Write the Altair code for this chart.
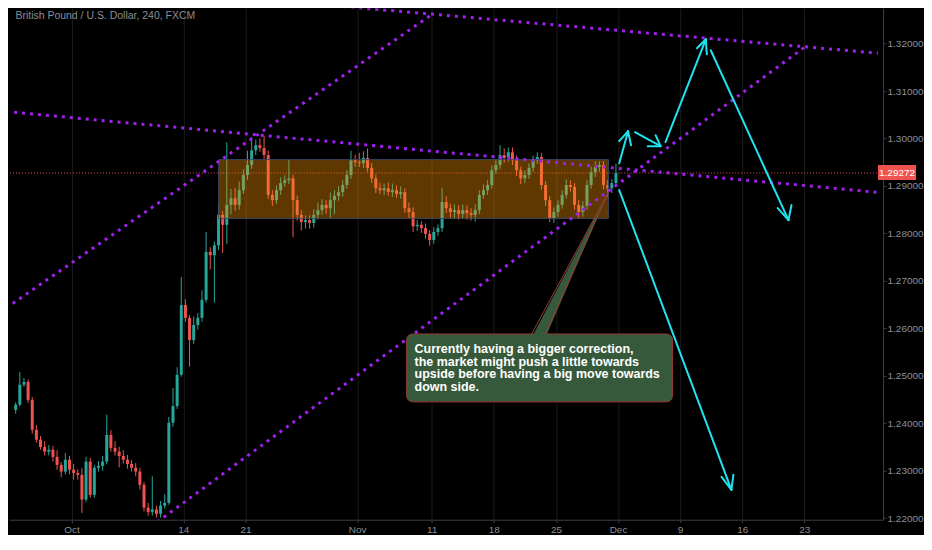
import altair as alt
import pandas as pd

# ---------------- data ----------------
TITLE = "British Pound / U.S. Dollar, 240, FXCM"
tick_days = [0, 9, 14, 23, 29, 34, 39, 44, 49, 54, 59]
tick_labels = ["Oct", "14", "21", "Nov", "11", "18", "25", "Dec", "9", "16", "23"]
price_ticks = [1.22, 1.23, 1.24, 1.25, 1.26, 1.27, 1.28, 1.29, 1.30, 1.31, 1.32]

first_bar_day = -4.5      # trading-day index of the first bar (Oct 1 = 0)
bars_per_day = 3
first_open = 1.2428
closes = [
    1.2439, 1.2481, 1.2487, 1.2449, 1.2386, 1.2365, 1.2350, 1.2340, 1.2344, 1.2329,
    1.2312, 1.2298, 1.2323, 1.2302, 1.2295, 1.2291, 1.2239, 1.2319, 1.2249, 1.2306,
    1.2310, 1.2319, 1.2375, 1.2348, 1.2340, 1.2331, 1.2323, 1.2314, 1.2306, 1.2298,
    1.2270, 1.2222, 1.2213, 1.2218, 1.2209, 1.2226, 1.2232, 1.2401, 1.2436, 1.2502,
    1.2649, 1.2622, 1.2575, 1.2607, 1.2622, 1.2660, 1.2761, 1.2754, 1.2775, 1.2839,
    1.2818, 1.2860, 1.2874, 1.2860, 1.2891, 1.2923, 1.2944, 1.2975, 1.2986, 1.2980,
    1.2965, 1.2881, 1.2870, 1.2891, 1.2906, 1.2912, 1.2916, 1.2870, 1.2839, 1.2824,
    1.2828, 1.2822, 1.2839, 1.2849, 1.2860, 1.2853, 1.2870, 1.2879, 1.2887, 1.2902,
    1.2923, 1.2954, 1.2950, 1.2948, 1.2959, 1.2938, 1.2916, 1.2895, 1.2891, 1.2895,
    1.2887, 1.2891, 1.2883, 1.2887, 1.2853, 1.2845, 1.2815, 1.2818, 1.2811, 1.2799,
    1.2786, 1.2803, 1.2811, 1.2866, 1.2853, 1.2845, 1.2849, 1.2841, 1.2849, 1.2843,
    1.2839, 1.2849, 1.2881, 1.2891, 1.2902, 1.2933, 1.2944, 1.2965, 1.2959, 1.2971,
    1.2954, 1.2933, 1.2916, 1.2923, 1.2938, 1.2954, 1.2961, 1.2902, 1.2870, 1.2832,
    1.2845, 1.2860, 1.2881, 1.2902, 1.2898, 1.2860, 1.2845, 1.2858, 1.2902, 1.2929,
    1.2940, 1.2944, 1.2902, 1.2895, 1.2906, 1.29272,
]
wick_up_pips = [
    5, 27, 8, 5, 6, 10, 8, 12, 10, 8,
    14, 6, 14, 8, 12, 8, 14, 10, 8, 6,
    10, 12, 43, 10, 14, 10, 12, 10, 8, 10,
    8, 6, 10, 70, 8, 10, 18, 12, 38, 16,
    59, 12, 6, 18, 10, 20, 42, 10, 8, 25,
    8, 132, 20, 22, 18, 12, 30, 28, 12, 14,
    25, 10, 10, 10, 12, 10, 39, 8, 10, 10,
    10, 10, 12, 16, 12, 10, 16, 12, 12, 10,
    10, 20, 12, 20, 14, 20, 10, 8, 12, 10,
    12, 14, 10, 12, 8, 12, 10, 10, 8, 10,
    8, 10, 8, 30, 12, 10, 12, 10, 12, 10,
    10, 12, 10, 12, 10, 10, 12, 21, 14, 10,
    10, 10, 8, 10, 10, 10, 10, 8, 8, 8,
    10, 10, 10, 12, 10, 8, 10, 10, 10, 12,
    12, 8, 8, 10, 8, 20,
]
wick_dn_pips = [
    8, 4, 5, 6, 8, 6, 6, 8, 8, 10,
    10, 12, 6, 10, 14, 10, 28, 6, 6, 6,
    8, 10, 6, 8, 8, 24, 8, 10, 8, 10,
    10, 8, 8, 8, 8, 8, 6, 4, 8, 6,
    4, 8, 56, 8, 10, 8, 6, 30, 100, 10,
    59, 40, 20, 12, 10, 8, 10, 8, 10, 8,
    8, 8, 12, 8, 10, 8, 8, 78, 12, 18,
    14, 12, 10, 10, 10, 12, 20, 30, 10, 10,
    8, 8, 10, 8, 10, 8, 10, 10, 8, 10,
    8, 10, 8, 10, 10, 14, 12, 10, 10, 10,
    12, 8, 8, 8, 10, 12, 14, 12, 10, 14,
    12, 14, 8, 8, 10, 8, 8, 8, 10, 8,
    10, 12, 12, 10, 8, 8, 8, 10, 12, 8,
    10, 10, 8, 8, 10, 10, 14, 10, 8, 8,
    10, 10, 10, 18, 10, 8,
]
last_price = 1.29272

# consolidation zone
zone_t = [11.846, 43.225]
zone_p = [1.28316, 1.29554]

# dotted trend lines (start day, start price, end day, end price)
trend_t0 = [-5.269, 16.76, -5.269, 6.379]
trend_p0 = [1.30567, 1.32901, 1.26428, 1.21817]
trend_t1 = [64.93, 64.93, 28.96, 59.07]
trend_p1 = [1.28864, 1.31798, 1.32603, 1.31933]

# cyan arrows: shaft + two head strokes each
arrow_t0 = [44.097, 44.810, 44.810,
            45.365, 47.425, 47.425,
            47.821, 51.070, 51.070,
            51.466, 57.726, 57.726,
            44.097, 53.130, 53.130]
arrow_p0 = [1.29480, 1.30154, 1.30154,
            1.30133, 1.29838, 1.29838,
            1.29923, 1.32091, 1.32091,
            1.31859, 1.28280, 1.28280,
            1.28912, 1.22596, 1.22596]
arrow_t1 = [44.810, 44.097, 45.048,
            47.425, 46.395, 47.029,
            51.070, 50.357, 51.149,
            57.726, 56.854, 57.964,
            53.130, 52.338, 53.288]
arrow_p1 = [1.30154, 1.29944, 1.29859,
            1.29838, 1.29838, 1.30070,
            1.32091, 1.31902, 1.31775,
            1.28280, 1.28533, 1.28596,
            1.22596, 1.22870, 1.22912]

# callout
note_lines = [
    "Currently having a bigger correction,",
    "the market might push a little towards",
    "upside before having a big move towards",
    "down side.",
]
note_box_t = [26.98, 48.38]
note_box_p = [1.24449, 1.25880]
note_text_t = 27.615
note_text_p = 1.25470
pointer_t = [37.044, 38.153, 43.225]
pointer_top = [1.2580, 1.26352, 1.28870]
pointer_bot = [1.2580, 1.2580, 1.28870]
pointer_edge_t0 = [37.044, 38.153]
pointer_edge_p0 = [1.2588, 1.2588]

title_t = -4.52
title_p = 1.32512
tag_t = [64.937, 68.0]
tag_p = [1.29123, 1.29439]

x_domain = [-4.6355, 64.937]
y_domain = [1.21965, 1.32744]

# ---------------- styling ----------------
BG = "#000000"
UP = "#26a69a"
DN = "#ef5350"
PURPLE = "#a020f0"
CYAN = "#1ee3f0"
NOTE_GREEN = "#37593b"
NOTE_RED = "#9a3b36"
AXIS_C = "#3a3d45"
LABEL_C = "#8c8f98"
SANS = "Liberation Sans, Arial, sans-serif"

# ---------------- frames ----------------
opens = [first_open] + closes[:-1]
candles = pd.DataFrame({
    "t": [first_bar_day + i / bars_per_day for i in range(len(closes))],
    "o": opens,
    "c": closes,
    "h": [max(o, c) + u * 1e-4 for o, c, u in zip(opens, closes, wick_up_pips)],
    "l": [min(o, c) - d * 1e-4 for o, c, d in zip(opens, closes, wick_dn_pips)],
})
zone_df = pd.DataFrame({"t0": [zone_t[0]], "t1": [zone_t[1]], "p0": [zone_p[0]], "p1": [zone_p[1]]})
trend_df = pd.DataFrame({"t0": trend_t0, "p0": trend_p0, "t1": trend_t1, "p1": trend_p1})
arrow_df = pd.DataFrame({"t0": arrow_t0, "p0": arrow_p0, "t1": arrow_t1, "p1": arrow_p1})
box_df = pd.DataFrame({"t0": [note_box_t[0]], "t1": [note_box_t[1]], "p0": [note_box_p[0]], "p1": [note_box_p[1]]})
ptr_df = pd.DataFrame({"t": pointer_t, "top": pointer_top, "bot": pointer_bot})
edge_df = pd.DataFrame({"t0": pointer_edge_t0, "p0": pointer_edge_p0,
                        "t1": [pointer_t[2]] * 2, "p1": [pointer_top[2]] * 2})
text_df = pd.DataFrame({"t": [note_text_t], "p": [note_text_p], "txt": ["\n".join(note_lines)]})
title_df = pd.DataFrame({"t": [title_t], "p": [title_p], "txt": [TITLE]})
price_df = pd.DataFrame({"p": [last_price]})
tag_df = pd.DataFrame({"t0": [tag_t[0]], "t1": [tag_t[1]], "p0": [tag_p[0]], "p1": [tag_p[1]],
                       "tc": [(tag_t[0] + tag_t[1]) / 2], "pc": [last_price],
                       "txt": [f"{last_price:.5f}"]})

# ---------------- scales / axes ----------------
xs = alt.Scale(domain=x_domain, nice=False, zero=False)
ys = alt.Scale(domain=y_domain, nice=False, zero=False)
label_expr = ("[" + ",".join(f"'{s}'" for s in tick_labels) + "][indexof(["
              + ",".join(str(d) for d in tick_days) + "], datum.value)]")
x_axis = alt.Axis(values=tick_days, labelExpr=label_expr, orient="bottom", title=None,
                  grid=True, gridColor="#1c1c1c", gridWidth=1,
                  domainColor=AXIS_C, tickColor=AXIS_C, tickSize=3, labelAngle=0,
                  labelColor=LABEL_C, labelFont=SANS, labelFontSize=10, labelPadding=2)
y_axis = alt.Axis(values=price_ticks, format=".5f", orient="right", title=None, grid=False,
                  domainColor=AXIS_C, tickColor=AXIS_C, tickSize=3,
                  labelColor=LABEL_C, labelFont=SANS, labelFontSize=10, labelPadding=1)


def X(f):
    return alt.X(f"{f}:Q", scale=xs, axis=x_axis)


def Y(f):
    return alt.Y(f"{f}:Q", scale=ys, axis=y_axis)


updown = alt.condition("datum.c >= datum.o", alt.value(UP), alt.value(DN))

price_line = alt.Chart(price_df).mark_rule(color=DN, strokeWidth=1, strokeDash=[1, 2]).encode(y=Y("p"))
wicks = alt.Chart(candles).mark_rule(strokeWidth=1).encode(x=X("t"), y=Y("l"), y2="h", color=updown)
bodies = alt.Chart(candles).mark_bar(size=3).encode(x=X("t"), y=Y("o"), y2="c", color=updown)
zone = alt.Chart(zone_df).mark_rect(fill="#ff9800", fillOpacity=0.37, stroke="#3b4766", strokeWidth=1).encode(
    x=X("t0"), x2="t1", y=Y("p0"), y2="p1")
trends = alt.Chart(trend_df).mark_rule(color=PURPLE, strokeWidth=3, strokeDash=[3, 5], strokeCap="butt",
                                       clip=True).encode(x=X("t0"), x2="t1", y=Y("p0"), y2="p1")
arrows = alt.Chart(arrow_df).mark_rule(color=CYAN, strokeWidth=2, strokeCap="round").encode(
    x=X("t0"), x2="t1", y=Y("p0"), y2="p1")
note_box = alt.Chart(box_df).mark_rect(fill=NOTE_GREEN, stroke=NOTE_RED, strokeWidth=1, cornerRadius=6).encode(
    x=X("t0"), x2="t1", y=Y("p0"), y2="p1")
pointer = alt.Chart(ptr_df).mark_area(color=NOTE_GREEN, opacity=1).encode(x=X("t"), y=Y("top"), y2="bot")
pointer_edges = alt.Chart(edge_df).mark_rule(color=NOTE_RED, strokeWidth=1).encode(
    x=X("t0"), x2="t1", y=Y("p0"), y2="p1")
note_text = alt.Chart(text_df).mark_text(align="left", baseline="alphabetic", color="#ffffff",
                                         font=SANS, fontSize=12.5, fontWeight="bold",
                                         lineHeight=12.5, lineBreak="\n").encode(
    x=X("t"), y=Y("p"), text="txt:N")
title = alt.Chart(title_df).mark_text(align="left", baseline="alphabetic", color="#8b8e97",
                                      font=SANS, fontSize=10.5).encode(x=X("t"), y=Y("p"), text="txt:N")
tag = alt.Chart(tag_df).mark_rect(fill=DN).encode(x=X("t0"), x2="t1", y=Y("p0"), y2="p1")
tag_text = alt.Chart(tag_df).mark_text(align="center", baseline="middle", color="#ffffff",
                                       font=SANS, fontSize=10).encode(x=X("tc"), y=Y("pc"), text="txt:N")

chart = alt.layer(
    price_line, wicks, bodies, zone, trends, arrows,
    note_box, pointer, pointer_edges, note_text, title, tag, tag_text,
).properties(
    width=875, height=512, padding=0, background=BG,
).configure_view(stroke=None)

chart.save("out.html", embed_options={"renderer": "svg", "actions": False})
